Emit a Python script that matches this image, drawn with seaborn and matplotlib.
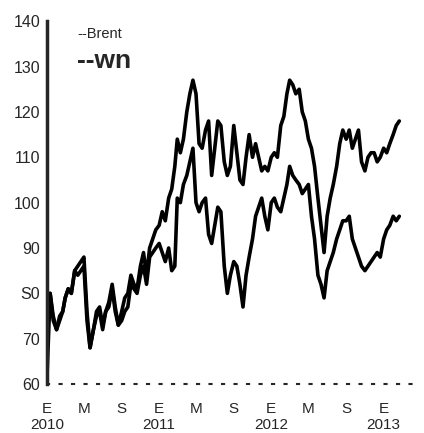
import matplotlib
matplotlib.use("Agg")
import matplotlib.pyplot as plt
import pandas as pd
import seaborn as sns

# readings, three per month (days 1, 11, 21), Jan 2010 - Feb 2013
months = pd.date_range("2010-01-01", "2013-02-01", freq="MS")
dates = [m + pd.Timedelta(days=d) for m in months for d in (0, 10, 20)]

brent = [78, 80, 74, 72, 75, 76, 79, 81, 80, 85, 86, 87, 88, 76, 68, 72, 76, 77,
         73, 76, 78, 82, 77, 73, 76, 79, 80, 84, 82, 81, 86, 89, 84, 90, 92, 94,
         95, 98, 96, 101, 103, 108, 114, 111, 114, 120, 124, 127, 124, 113, 112, 116, 118, 106,
         112, 118, 117, 109, 106, 108, 117, 111, 105, 104, 110, 115, 110, 113, 110, 107, 108, 107,
         110, 111, 110, 117, 119, 124, 127, 126, 124, 125, 120, 118, 114, 112, 108, 101, 95, 89,
         97, 101, 104, 108, 113, 116, 114, 116, 112, 114, 116, 109, 107, 110, 111, 111, 109, 110,
         112, 111, 113, 115, 117, 118]
wti = [62, 80, 75, 72, 74, 76, 79, 81, 80, 85, 84, 85, 86, 74, 68, 72, 75, 76,
       72, 76, 77, 81, 76, 73, 74, 76, 77, 82, 81, 80, 84, 86, 82, 88, 89, 90,
       91, 89, 87, 90, 85, 86, 101, 100, 104, 106, 109, 112, 100, 98, 100, 101, 93, 91,
       95, 99, 98, 86, 80, 84, 87, 86, 82, 77, 84, 88, 92, 97, 99, 101, 97, 94,
       100, 101, 99, 98, 101, 104, 108, 106, 105, 104, 102, 103, 104, 97, 92, 84, 82, 79,
       85, 87, 89, 92, 94, 96, 96, 97, 92, 90, 88, 86, 85, 86, 87, 88, 89, 88,
       92, 94, 95, 97, 96, 97]

tick_dates = pd.date_range("2010-01-01", "2013-01-01", freq="4MS")
tick_labels = ["E\n2010", "M", "S", "E\n2011", "M", "S", "E\n2012", "M", "S", "E\n2013"]
y_ticks = [60, 70, 80, 90, 100, 110, 120, 130, 140]
y_labels = ["60", "70", "S0", "90", "100", "110", "120", "130", "140"]

df = pd.DataFrame({"date": dates * 2,
                   "price": brent + wti,
                   "serie": ["Brent"] * len(brent) + ["WTI"] * len(wti)})

sns.set_style("white")
plt.rcParams["font.family"] = "sans-serif"
plt.rcParams["font.sans-serif"] = ["Liberation Sans", "DejaVu Sans"]

fig = plt.figure(figsize=(4.24, 4.33), dpi=100)
ax = fig.add_axes([0.111, 0.113, 0.88, 0.838])

sns.lineplot(data=df, x="date", y="price", hue="serie", palette=["black", "black"],
             linewidth=2.6, legend=False, ax=ax)

ax.set_xlim(pd.Timestamp("2010-01-01"), pd.Timestamp("2013-04-30"))
ax.set_ylim(60, 140)
ax.set_xticks(tick_dates)
ax.set_xticklabels(tick_labels, fontsize=11, family="Liberation Sans", linespacing=1.15)
ax.set_yticks(y_ticks)
ax.set_yticklabels(y_labels, fontsize=11.5, family="Liberation Sans")
ax.tick_params(axis="x", length=0, pad=13)
ax.tick_params(axis="y", length=4, width=1.5, direction="out", pad=1)
ax.set_xlabel("")
ax.set_ylabel("")

for s in ["top", "right"]:
    ax.spines[s].set_visible(False)
ax.spines["left"].set_linewidth(2.5)
ax.spines["bottom"].set_linestyle((0, (1, 5)))
ax.spines["bottom"].set_linewidth(1.5)

ax.text(0.08, 0.955, "--Brent", transform=ax.transAxes, fontsize=10.5, family="Liberation Sans")
ax.text(0.08, 0.87, "--wn", transform=ax.transAxes, fontsize=19, fontweight="bold",
        family="Liberation Sans")

fig.savefig("out.png", dpi=100)
